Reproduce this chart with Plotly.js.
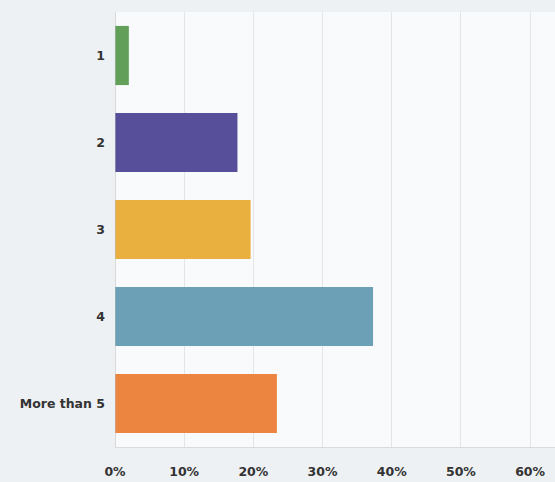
<!DOCTYPE html>
<html>
<head>
<meta charset="utf-8">
<script src="https://cdn.plot.ly/plotly-3.0.1.min.js"></script>
<style>html,body{margin:0;padding:0;background:#eef1f4;}#chart{width:555px;height:482px;}</style>
</head>
<body>
<div id="chart"></div>
<script>
const categories = ["1", "2", "3", "4", "More than 5"];
const values = [2.0, 17.7, 19.6, 37.3, 23.4];
const barColors = ["#62a05a", "#574f9a", "#eab03f", "#6ba0b6", "#ec8540"];
const tickVals = [0, 10, 20, 30, 40, 50, 60];
const tickText = ["0%", "10%", "20%", "30%", "40%", "50%", "60%"];

const trace = {
  type: "bar",
  orientation: "h",
  y: categories,
  x: values,
  marker: { color: barColors, line: { width: 0 } },
  width: 0.68,
  hoverinfo: "none"
};

const labelFont = { size: 12.5, family: "'DejaVu Sans', sans-serif", weight: "bold", color: "#333" };

const layout = {
  width: 555,
  height: 482,
  margin: { l: 115, r: 0, t: 12, b: 35, pad: 0 },
  paper_bgcolor: "#eef1f4",
  plot_bgcolor: "#f9fafb",
  showlegend: false,
  font: { family: "'DejaVu Sans', sans-serif", color: "#333" },
  xaxis: {
    range: [0, 63.6],
    tickvals: tickVals,
    ticktext: tickText,
    showgrid: true,
    gridcolor: "#e3e6e9",
    gridwidth: 1,
    zeroline: false,
    showline: true,
    linecolor: "#d8dbde",
    linewidth: 1,
    ticks: "",
    ticklabelstandoff: 13,
    tickfont: labelFont,
    fixedrange: true
  },
  yaxis: {
    type: "category",
    categoryorder: "array",
    categoryarray: categories,
    autorange: "reversed",
    showgrid: false,
    zeroline: false,
    showline: false,
    ticks: "",
    ticklabelstandoff: 9,
    tickfont: labelFont,
    fixedrange: true
  },
  shapes: [{
    type: "line", xref: "x", yref: "paper",
    x0: 0, x1: 0, y0: 0, y1: 1,
    line: { color: "#b5b8bb", width: 1 }
  }],
  bargap: 0.32
};

Plotly.newPlot("chart", [trace], layout, { displayModeBar: false, staticPlot: true });
</script>
</body>
</html>
